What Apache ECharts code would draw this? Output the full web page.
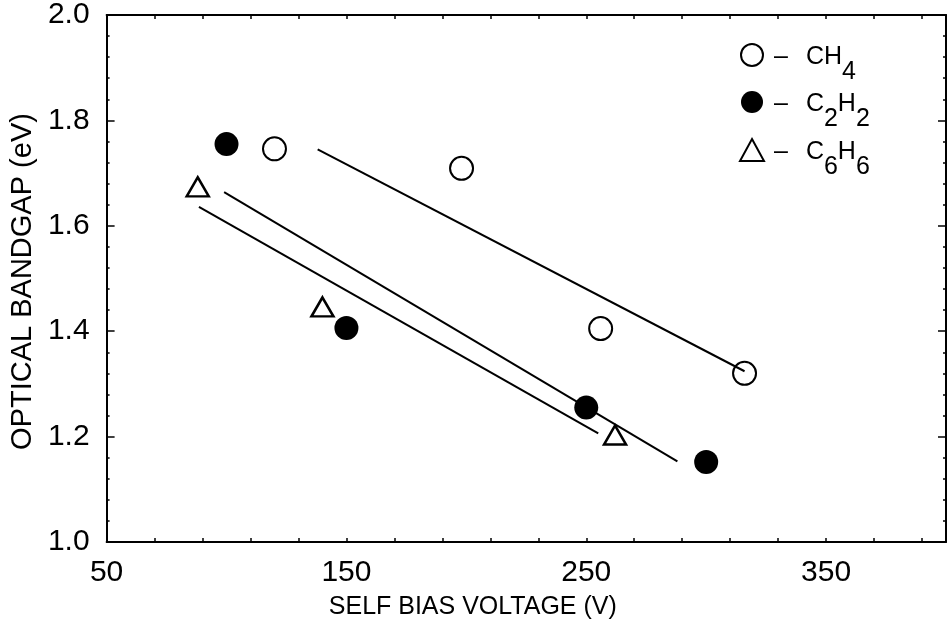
<!DOCTYPE html>
<html>
<head>
<meta charset="utf-8">
<script src="https://cdn.jsdelivr.net/npm/echarts@6/dist/echarts.min.js"></script>
<style>
  html, body { margin: 0; padding: 0; background: #fff; }
  #chart { width: 947px; height: 626px; }
</style>
</head>
<body>
<div id="chart"></div>
<script>
// Optical bandgap of films grown at different self-bias voltages, three precursor gases
const ch4Voltage = [120, 198, 256, 316];
const ch4Gap = [1.746, 1.709, 1.405, 1.320];
const c2h2Voltage = [100, 150, 250, 300];
const c2h2Gap = [1.755, 1.406, 1.255, 1.152];
const c6h6Voltage = [88, 140, 262];
const c6h6Gap = [1.674, 1.446, 1.203];

// Straight-line fits, given by their end points
const ch4FitVoltage = [138, 316];
const ch4FitGap = [1.745, 1.324];
const c2h2FitVoltage = [99, 288];
const c2h2FitGap = [1.664, 1.153];
const c6h6FitVoltage = [88.5, 255];
const c6h6FitGap = [1.636, 1.206];

// Axis ticks
const xTickLabels = [50, 150, 250, 350];
const xMinorStep = 20;
const yTickLabels = [1.0, 1.2, 1.4, 1.6, 1.8, 2.0];

// Legend text with subscripts, as rich-text tokens
const legendText = {
  'CH4':  '{d|–}{m|CH}{s|4}',
  'C2H2': '{d|–}{m|C}{s|2}{m|H}{s|2}',
  'C6H6': '{d|–}{m|C}{s|6}{m|H}{s|6}'
};

const FONT = '"Liberation Sans", Arial, Helvetica, sans-serif';
const pairs = (xs, ys) => xs.map((x, i) => [x, ys[i]]);

// minor ticks every 20 V, starting at the first labelled tick
const xAllTicks = [];
for (let v = xTickLabels[0]; v <= 400; v += xMinorStep) xAllTicks.push(v);

const chart = echarts.init(document.getElementById('chart'), null, { renderer: 'canvas' });

const axisLine = { show: true, lineStyle: { color: '#000', width: 2 } };
const xBase = {
  type: 'value', min: 50, max: 400,
  splitLine: { show: false },
  axisLine: axisLine
};
const yBase = {
  type: 'value', min: 1.0, max: 2.0, interval: 0.2,
  splitLine: { show: false },
  axisLine: axisLine,
  axisTick: { show: true, inside: true, length: 8, lineStyle: { color: '#000', width: 1.5 } },
  minorTick: { show: true, splitNumber: 5, length: 3, lineStyle: { color: '#000', width: 1.5 } }
};

const fitLine = (name, xs, ys) => ({
  name: name + ' fit', type: 'line', data: pairs(xs, ys),
  showSymbol: false, symbol: 'none', silent: true, z: 3,
  lineStyle: { color: '#000', width: 2 }
});

const token = (extra) => Object.assign({
  fontFamily: FONT, fontSize: 25, color: '#000',
  lineHeight: 20, verticalAlign: 'top'
}, extra);

chart.setOption({
  backgroundColor: '#fff',
  animation: false,
  textStyle: { fontFamily: FONT, color: '#000' },
  grid: { left: 101, right: 1, top: 14, bottom: 84 },
  xAxis: [
    Object.assign({}, xBase, {
      position: 'bottom',
      name: 'SELF BIAS VOLTAGE (V)',
      nameLocation: 'middle',
      nameGap: 53,
      nameTextStyle: { fontFamily: FONT, fontSize: 25, color: '#000', padding: [0, 107, 0, 0] },
      axisTick: { show: true, inside: true, length: 4, customValues: xAllTicks,
                  lineStyle: { color: '#000', width: 1.5 } },
      axisLabel: { show: true, customValues: xTickLabels, margin: 16,
                   fontFamily: FONT, fontSize: 30, color: '#000' }
    }),
    Object.assign({}, xBase, {
      position: 'top',
      axisTick: { show: true, inside: true, length: 4, customValues: xAllTicks,
                  lineStyle: { color: '#000', width: 1.5 } },
      axisLabel: { show: false }
    })
  ],
  yAxis: [
    Object.assign({}, yBase, {
      position: 'left',
      name: 'OPTICAL BANDGAP (eV)',
      nameLocation: 'middle',
      nameGap: 60,
      nameTextStyle: { fontFamily: FONT, fontSize: 29, color: '#000', padding: [0, 6, 0, 0] },
      axisLabel: { show: true, margin: 17, fontFamily: FONT, fontSize: 30, color: '#000',
                   formatter: v => v.toFixed(1) }
    }),
    Object.assign({}, yBase, {
      position: 'right',
      axisLabel: { show: false }
    })
  ],
  legend: {
    orient: 'vertical',
    left: 739,
    top: 43,
    padding: 0,
    itemGap: 6,
    itemWidth: 24,
    itemHeight: 22,
    selectedMode: false,
    data: ['CH4', 'C2H2', 'C6H6'],
    formatter: name => legendText[name],
    textStyle: {
      fontFamily: FONT, fontSize: 25, color: '#000',
      rich: {
        d: token({ padding: [0, 18, 0, 5] }),
        m: token({}),
        s: token({ padding: [15, 0, 0, 0] })
      }
    }
  },
  series: [
    {
      name: 'CH4', type: 'scatter', data: pairs(ch4Voltage, ch4Gap),
      symbol: 'circle', symbolSize: 23,
      itemStyle: { color: '#fff', borderColor: '#000', borderWidth: 2, opacity: 1 }
    },
    {
      name: 'C2H2', type: 'scatter', data: pairs(c2h2Voltage, c2h2Gap),
      symbol: 'circle', symbolSize: 24,
      itemStyle: { color: '#000', borderColor: '#000', borderWidth: 0, opacity: 1 }
    },
    {
      name: 'C6H6', type: 'scatter', data: pairs(c6h6Voltage, c6h6Gap),
      symbol: 'triangle', symbolSize: [22, 19],
      itemStyle: { color: '#fff', borderColor: '#000', borderWidth: 2.5, opacity: 1 }
    },
    fitLine('CH4', ch4FitVoltage, ch4FitGap),
    fitLine('C2H2', c2h2FitVoltage, c2h2FitGap),
    fitLine('C6H6', c6h6FitVoltage, c6h6FitGap)
  ]
});
</script>
</body>
</html>
